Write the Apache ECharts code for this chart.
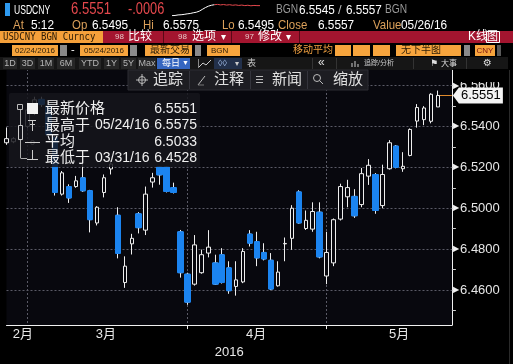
<!DOCTYPE html>
<html><head><meta charset="utf-8">
<script src="https://cdn.jsdelivr.net/npm/echarts@6/dist/echarts.min.js"></script>
<style>html,body{margin:0;padding:0;background:#000;}#c{width:513px;height:364px;}</style>
</head><body><div id="c"></div>
<script>
// ---------- data ----------
const dates = ['02/24','02/25','02/26','02/29',
 '03/01','03/02','03/03','03/04','03/07','03/08','03/09','03/10','03/11','03/14','03/15','03/16','03/17','03/18','03/21','03/22','03/23','03/24','03/25','03/28','03/29','03/30','03/31',
 '04/01','04/05','04/06','04/07','04/08','04/11','04/12','04/13','04/14','04/15','04/18','04/19','04/20','04/21','04/22','04/25','04/26','04/27','04/28','04/29',
 '05/03','05/04','05/05','05/06','05/09','05/10','05/11','05/12','05/13','05/16','05/17','05/18','05/19','05/20','05/23','05/24'];
const opens  = [6.5320,6.5325,6.5335,6.5400,6.5470,6.5532,6.5500,6.5345,6.5069,6.5106,6.5106,6.5149,6.5086,6.4928,6.5077,6.5192,6.4966,6.4637,6.4826,6.4973,6.4893,6.5128,6.5202,6.5202,6.5101,6.4885,6.4678,
 6.4629,6.4685,6.4781,6.4733,6.4773,6.4709,6.4618,6.4640,6.4874,6.4837,6.4784,6.4746,6.4621,6.4826,6.4853,6.5080,6.4901,6.4898,6.4981,6.4669,
 6.4733,6.4947,6.5056,6.5058,6.5018,6.5157,6.5165,6.5013,6.5193,6.5304,6.5193,6.5258,6.5426,6.5433,6.5425,6.5495];
const closes = [6.5340,6.5340,6.5400,6.5480,6.5530,6.5508,6.5360,6.5077,6.5173,6.5050,6.5134,6.5085,6.4944,6.5005,6.5149,6.5216,6.4779,6.4717,6.4853,6.4905,6.5069,6.5149,6.5163,6.5082,6.5077,6.4685,6.4541,
 6.4821,6.4773,6.4810,6.4629,6.4637,6.4597,6.4650,6.4789,6.4829,6.4757,6.4752,6.4605,6.4688,6.4828,6.5000,6.4928,6.4941,6.4984,6.4762,6.4784,
 6.4944,6.5106,6.5101,6.4963,6.5169,6.5210,6.4989,6.5165,6.5320,6.5200,6.5205,6.5385,6.5492,6.5490,6.5557,6.5551];
const lows   = [6.5310,6.5318,6.5330,6.5390,6.5455,6.5495,6.5340,6.5062,6.5062,6.5026,6.5100,6.5080,6.4882,6.4916,6.5053,6.5165,6.4755,6.4611,6.4774,6.4877,6.4869,6.5101,6.5115,6.5077,6.5072,6.4661,6.4528,
 6.4622,6.4680,6.4760,6.4625,6.4632,6.4582,6.4573,6.4634,6.4813,6.4717,6.4745,6.4600,6.4617,6.4741,6.4797,6.4925,6.4894,6.4885,6.4755,6.4629,
 6.4717,6.4940,6.5005,6.4953,6.5005,6.5114,6.4973,6.5000,6.5189,6.5195,6.5178,6.5254,6.5394,6.5406,6.5415,6.5495];
const highs  = [6.5395,6.5348,6.5420,6.5500,6.5545,6.5545,6.5510,6.5355,6.5182,6.5117,6.5158,6.5221,6.5090,6.5010,6.5165,6.5235,6.5005,6.4765,6.4875,6.4981,6.5106,6.5173,6.5205,6.5206,6.5125,6.4894,6.4685,
 6.4869,6.4798,6.4893,6.4773,6.4805,6.4741,6.4741,6.4805,6.4893,6.4885,6.4829,6.4781,6.4741,6.4857,6.5015,6.5088,6.4989,6.5029,6.5029,6.4885,
 6.4950,6.5120,6.5139,6.5093,6.5197,6.5240,6.5172,6.5213,6.5333,6.5309,6.5274,6.5390,6.5509,6.5499,6.5562,6.5575];
const padCats = ['', ''];
const monthLabels = ['2月','3月','4月','5月'];
const monthLabelIdx = [2, 14, 36, 57];
const monthEndIdx = [3, 26, 46];
const xTickIdx = [26, 46];
const priceLabels = [6.46, 6.48, 6.50, 6.52, 6.54, 6.56];
const priceTicks = [6.45, 6.46, 6.47, 6.48, 6.49, 6.50, 6.51, 6.52, 6.53, 6.54, 6.55, 6.56];
const yMin = 6.4429, yMax = 6.5700;
const lastPrice = 6.5551;
const legendNames = ['最新价格','最高于','平均','最低于'];
const legendDates = ['','05/24/16','','03/31/16'];
const legendValues = ['6.5551','6.5575','6.5033','6.4528'];
const sparkA = [6.5495,6.5496,6.5499,6.5500,6.5502,6.5505,6.5507,6.5511,6.5514,6.5520,6.5530,6.5540,6.5548,6.5553,6.5556];
const sparkB = [6.5556,6.5558,6.5555,6.5557,6.5554,6.5556,6.5553,6.5555,6.5552,6.5554,6.5551,6.5553,6.5550,6.5552,6.5551,6.5551];

// ---------- build ----------
const cats = dates.concat(padCats);
const allCandles = dates.map((d,i)=>[opens[i],closes[i],lows[i],highs[i]]);
const downBodies = dates.map((d,i)=> closes[i] < opens[i] ? [opens[i],closes[i],closes[i],opens[i]] : ['-','-','-','-']);
const sparkLen = sparkA.length + sparkB.length - 1;
const sparkX = Array.from({length: sparkLen}, (_, i) => i);
const sparkAData = sparkX.map(i => i < sparkA.length ? sparkA[i] : '-');
const sparkBData = sparkX.map(i => i >= sparkA.length - 1 ? sparkB[i - sparkA.length + 1] : '-');

const FF = "'Liberation Sans','Noto Sans CJK SC',sans-serif";
const BLUE = '#1b84f0', UPB = '#eeeeee', PLOT = '#08080e';
const G = [];
function R(x,y,w,h,fill,o){o=o||{};G.push({type:'rect',z:o.z||50,shape:{x:x,y:y,width:w,height:h,r:o.r||0},style:{fill:fill,stroke:o.stroke||null,lineWidth:o.lw||1}});}
function T(x,y,text,size,fill,o){o=o||{};G.push({type:'text',z:o.z||52,x:x,y:y,scaleX:o.sx||1,style:{text:text,fill:fill,font:(o.bold?'bold ':'')+size+'px '+(o.ff||FF),textAlign:o.align||'left',textVerticalAlign:'middle'}});}
function L(x1,y1,x2,y2,stroke,o){o=o||{};G.push({type:'line',z:o.z||52,shape:{x1:x1,y1:y1,x2:x2,y2:y2},style:{stroke:stroke,lineWidth:o.lw||1}});}
function C(cx,cy,r,stroke,fill){G.push({type:'circle',z:52,shape:{cx:cx,cy:cy,r:r},style:{stroke:stroke,fill:fill||null,lineWidth:1}});}

// Row 1
R(5,3,5,13,'#2e9af0');
T(14,10,'USDCNY',13,'#ffffff',{sx:0.66});
T(71,10,'6.5551',16,'#e5484d',{sx:0.82});
T(128,10,'-.0006',16,'#e5484d',{sx:0.8});
T(276,10,'BGN',12,'#9a9a9a',{sx:0.85});
T(299,10,'6.5545',13,'#ffffff',{sx:0.9});
T(338,10,'/',13,'#bbbbbb');
T(346,10,'6.5557',13,'#ffffff',{sx:0.9});
T(385,10,'BGN',12,'#9a9a9a',{sx:0.85});
// Row 2
const ORG = '#dba05a';
[['At',13],['Op',72],['Hi',143],['Lo',222],['Close',278],['Value',373]].forEach(a=>T(a[1],25,a[0],13,ORG,{sx:0.88}));
[['5:12',31],['6.5495',92],['6.5575',163],['6.5495',238],['6.5557',318],['05/26/16',401]].forEach(a=>T(a[1],25,a[0],13,'#ffffff',{sx:0.91}));
// Row 3
R(0,31,103,12,'#f5a03a');
T(3,37,'USDCNY BGN Curncy',11,'#2a1a05',{ff:"'DejaVu Sans Mono',monospace",sx:0.82});
R(103,31,410,12,'#a3152f');
L(163.5,31,163.5,43,'#5a0816'); L(231.5,31,231.5,43,'#5a0816'); L(299.5,31,299.5,43,'#5a0816');
T(115,37,'98',8,'#e8c8c8'); T(128,37,'比较',12,'#ffffff');
T(178,37,'98',8,'#e8c8c8'); T(192,37,'选项',12,'#ffffff'); T(221,37,'▾',10,'#ffffff');
T(245,37,'97',8,'#e8c8c8'); T(258,37,'修改',12,'#ffffff'); T(286,37,'▾',10,'#ffffff');
T(468,37,'K线',12,'#ffffff'); R(486.5,31.5,13,11,null,{stroke:'#ffffff'}); T(487,37,'图',11,'#ffffff');
// Row 4
const BOX = '#f7a53d', DK = '#2b1d08';
R(12,45,46,11,BOX); T(35,50.5,'02/24/2016',8,DK,{align:'center'});
R(60,45,7,11,'#8a8a8a');
T(71,50,'-',11,'#ffffff');
R(80,45,48,11,BOX); T(104,50.5,'05/24/2016',8,DK,{align:'center'});
R(130,45,7,11,'#8a8a8a');
R(145,45,47,11,BOX); T(150,50.5,'最新交易',10,DK);
R(195,45,6,11,'#8a8a8a');
R(207,45,33,11,BOX); T(211,50.5,'BGN',8,DK);
T(293,50,'移动平均',10,'#f0a040');
R(335,45,16,11,BOX); R(353,45,17,11,BOX); R(373,45,17,11,BOX);
R(396,45,65,11,BOX); T(401,50.5,'无下半图',10,DK);
R(464,45,6,11,'#8a8a8a');
R(475,45,20,11,BOX); T(485,50.5,'CNY',8,'#7a1010',{align:'center'});
R(497,45,4,11,'#5a5a5a');
// Row 5
R(0,57,508,13,'#161616');
[['1D',3,17],['3D',20,35],['1M',38,54],['6M',57,75],['YTD',79,101],['1Y',104,119],['5Y',121,136],['Max',138,156]].forEach(b=>{
  R(b[1],58,b[2]-b[1],11,'#262626'); T((b[1]+b[2])/2,63.5,b[0],9,'#b5b5b5',{align:'center'});
});
R(157,58,33,11,'#3566c0'); T(162,63.5,'每日',9,'#ffffff'); T(182,63.5,'▼',7,'#ffffff');
L(199,67,203,63,'#cccccc'); L(203,63,206,65,'#cccccc'); L(206,65,211,60,'#cccccc'); L(198.5,59,198.5,68,'#888888');
R(214,58,28,11,'#22304a'); T(218,63.5,'◊◊',9,'#9bb5e0'); T(235,63.5,'▾',8,'#cccccc');
T(247,63.5,'表',9,'#cccccc');
L(312.5,58,312.5,69,'#333333'); T(318,63,'«',12,'#dddddd');
L(336.5,58,336.5,69,'#333333');
L(352,67,352,63,'#cccccc'); L(355,67,355,61,'#cccccc'); L(358,67,358,64,'#cccccc');
T(364,63.5,'追踪/分析',7,'#cccccc');
L(413.5,58,413.5,69,'#333333');
T(430,63.5,'⚑',9,'#dddddd',{ff:"'DejaVu Sans'"}); T(441,63.5,'大事',8,'#dddddd');
L(466.5,58,466.5,69,'#333333');
T(483,63.5,'⚙',10,'#dddddd',{ff:"'DejaVu Sans'"});
// Row 6 overlay toolbar
R(128,70,240,20,'#1d1d22',{stroke:'#2c2c33'});
C(142,80,3.5,'#bbbbbb'); L(142,74,142,86,'#bbbbbb'); L(136,80,148,80,'#bbbbbb');
T(153,80,'追踪',15,'#e0e0e0');
L(189.5,71,189.5,89,'#34343c');
L(198,85,205,76,'#bbbbbb'); L(198,85,204,85,'#777777');
T(214,80,'注释',15,'#e0e0e0');
L(250.5,71,250.5,89,'#34343c');
L(256,76.5,263,76.5,'#bbbbbb'); L(256,79.5,263,79.5,'#bbbbbb'); L(256,82.5,263,82.5,'#bbbbbb');
T(272,80,'新闻',15,'#e0e0e0');
L(307.5,71,307.5,89,'#34343c');
C(317,78,3.5,'#bbbbbb'); L(319.5,80.5,323,84,'#bbbbbb');
T(333,80,'缩放',15,'#e0e0e0');
// cover top of the 6.5600 label, right strip
R(453,69,55,13,'#000000');
L(509.5,70,509.5,364,'#2a2a2a');
// legend box
R(9,93,191,74,'rgba(22,22,28,0.84)',{r:2,z:60});
R(17.5,104.5,5,5,null,{stroke:'#bbbbbb',z:61});
L(20.5,110,20.5,158,'#aaaaaa',{z:61});
R(18.5,125.5,4,14,'rgba(22,22,28,1)',{stroke:'#cccccc',z:62});
L(20.5,158.5,27,158.5,'#aaaaaa',{z:61});
const rowY = [109,125.5,142,158];
R(27,103,11,11,'#f2f2f2',{z:61});
L(28,120.5,36,120.5,'#cccccc',{z:61}); L(32.5,120,32.5,131,'#cccccc',{z:61}); L(30,124.5,35,124.5,'#cccccc',{z:61});
L(25,142.5,40,142.5,'#cccccc',{z:61}); C(32.5,142.5,2,'#cccccc','#1a1a20');
L(32.5,150,32.5,159,'#cccccc',{z:61}); L(27,159.5,38,159.5,'#cccccc',{z:61});
for (let k=0;k<4;k++){
  T(45,rowY[k],legendNames[k],15,'#f0f0f0',{z:62});
  if (legendDates[k]) T(95,rowY[k],legendDates[k],14,'#f0f0f0',{z:62,sx:1.0});
  T(197,rowY[k],legendValues[k],14,'#f0f0f0',{z:62,align:'right'});
}

const option = {
  backgroundColor: '#000000',
  animation: false,
  grid: [
    {left: 6.5, right: 61.1, top: 65, bottom: 34, show: true, backgroundColor: PLOT, borderWidth: 0},
    {left: 172, top: 4, width: 88, height: 12}
  ],
  xAxis: [{
    type: 'category', gridIndex: 0, data: cats, boundaryGap: false,
    axisLine: {show: true, lineStyle: {color: '#f0f0f0', width: 1}},
    axisTick: {show: true, interval: (i) => xTickIdx.includes(i), length: 4, lineStyle: {color: '#f0f0f0'}},
    axisLabel: {
      show: true, interval: (i) => monthLabelIdx.includes(i), margin: 3,
      color: '#e8e8e8', fontSize: 13, fontFamily: FF,
      formatter: (v, i) => { const k = monthLabelIdx.indexOf(i); return k < 0 ? '' : '{m' + k + '|' + monthLabels[k] + '}'; },
      rich: {m0: {padding: [0,0,0,5]}, m1: {padding: [0,0,0,4]}, m2: {padding: [0,2,0,0]}, m3: {padding: [0,8,0,0]}}
    },
    splitLine: {show: true, interval: (i) => monthEndIdx.includes(i), lineStyle: {color: '#5a5a66', type: [2,2], width: 1}},
    name: '2016', nameLocation: 'middle', nameGap: 18,
    nameTextStyle: {color: '#e8e8e8', fontSize: 13, fontFamily: FF}
  }, {
    type: 'category', gridIndex: 1, data: sparkX, boundaryGap: false, show: false
  }],
  yAxis: [{
    type: 'value', gridIndex: 0, position: 'right', min: yMin, max: yMax,
    axisLine: {show: true, lineStyle: {color: '#f0f0f0', width: 1}},
    axisTick: {show: true, customValues: priceTicks, length: 4, lineStyle: {color: '#d0d0d0'}},
    axisLabel: {
      show: true, customValues: priceLabels, margin: 1,
      formatter: (v) => '{t|▶}{v|' + v.toFixed(4) + '}',
      rich: {
        t: {fontSize: 8, color: '#f0f0f0', fontFamily: "'DejaVu Sans'"},
        v: {fontSize: 13, color: '#e6e6e6', fontFamily: FF, padding: [0,0,0,1]}
      }
    },
    splitLine: {show: false}
  }, {
    type: 'value', gridIndex: 0, min: yMin, max: yMax, minInterval: 0.02, maxInterval: 0.02,
    axisLine: {show: false}, axisTick: {show: false}, axisLabel: {show: false},
    splitLine: {show: true, showMinLine: false, showMaxLine: false, lineStyle: {color: '#5a5a66', type: [2,2], width: 1}}
  }, {
    type: 'value', gridIndex: 1, show: false, min: 6.5493, max: 6.5560
  }],
  series: [{
    type: 'candlestick', name: 'USDCNY', xAxisIndex: 0, yAxisIndex: 0, data: allCandles,
    barWidth: 4, clip: false,
    itemStyle: {color: PLOT, color0: BLUE, borderColor: UPB, borderColor0: UPB, borderWidth: 1},
    markLine: {
      silent: true, symbol: ['none','none'], z: 1, label: {show: false},
      lineStyle: {color: '#e08a2c', width: 1, type: 'solid'},
      data: [[{coord: [dates.length - 1, lastPrice]}, {coord: [cats.length - 1, lastPrice]}]]
    },
    markPoint: {
      silent: true,
      symbol: 'path://M0,8L6,0L50,0L50,16L6,16Z', symbolSize: [50,16], symbolOffset: [26,0], symbolKeepAspect: false,
      itemStyle: {color: '#f4f4f4'},
      label: {show: true, position: 'inside', offset: [3,0], color: '#000000', fontSize: 13, fontFamily: FF, formatter: () => lastPrice.toFixed(4)},
      data: [{coord: [cats.length - 1, lastPrice], value: lastPrice}]
    }
  }, {
    type: 'candlestick', name: 'down', xAxisIndex: 0, yAxisIndex: 0, data: downBodies,
    barWidth: 6, clip: false,
    itemStyle: {color: BLUE, color0: BLUE, borderColor: BLUE, borderColor0: BLUE, borderWidth: 1}
  }, {
    type: 'line', xAxisIndex: 1, yAxisIndex: 2, data: sparkAData, symbol: 'none',
    lineStyle: {color: '#ffffff', width: 1}
  }, {
    type: 'line', xAxisIndex: 1, yAxisIndex: 2, data: sparkBData, symbol: 'none',
    lineStyle: {color: '#e5484d', width: 1}
  }],
  graphic: G
};
const chart = echarts.init(document.getElementById('c'), null, {renderer: 'canvas'});
chart.setOption(option);
</script>
</body></html>
